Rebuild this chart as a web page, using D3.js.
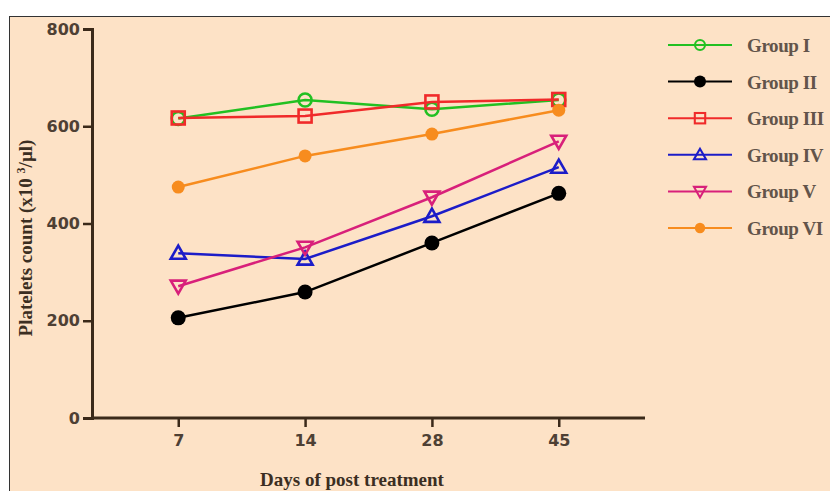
<!DOCTYPE html>
<html lang="en">
<head>
<meta charset="UTF-8">
<script src="https://d3js.org/d3.v7.min.js"></script>
<title>Platelets</title>
<style>
  body { margin:0; background:#fff; }
</style>
</head>
<body>
<script>
// data
var days = ["7", "14", "28", "45"];
var groups = ["Group I", "Group II", "Group III", "Group IV", "Group V", "Group VI"];
var groupI   = [616, 654, 635, 654];
var groupII  = [206, 259, 360, 462];
var groupIII = [617, 621, 650, 655];
var groupIV  = [339, 327, 415, 516];
var groupV   = [271, 351, 454, 569];
var groupVI  = [475, 539, 584, 633];
var yTicks = [0, 200, 400, 600, 800];

var series = [
  {name: groups[0], vals: groupI,   color: "#22c022", shape: "circle",  fill: false},
  {name: groups[1], vals: groupII,  color: "#000000", shape: "circle",  fill: true},
  {name: groups[2], vals: groupIII, color: "#f02a2a", shape: "square",  fill: false},
  {name: groups[3], vals: groupIV,  color: "#1c1cc8", shape: "tri",     fill: false},
  {name: groups[4], vals: groupV,   color: "#d8207a", shape: "tridown", fill: false},
  {name: groups[5], vals: groupVI,  color: "#f78c1e", shape: "circle",  fill: true, small: true}
];

var W = 830, H = 491;
var svg = d3.select("body").append("svg").attr("width", W).attr("height", H);

// peach panel with thin frame
svg.append("rect").attr("x", 9.5).attr("y", 16.5).attr("width", W).attr("height", H)
  .attr("fill", "#fde2c6").attr("stroke", "#333").attr("stroke-width", 1);

var x = d3.scalePoint().domain(days).range([92, 645]).padding(0.68);
var y = d3.scaleLinear().domain([0, 800]).range([418, 29]);

var axisColor = "#3b2a1a";
var gy = svg.append("g").attr("transform", "translate(92,0)")
  .call(d3.axisLeft(y).tickValues(yTicks).tickSize(9).tickPadding(3));
var gx = svg.append("g").attr("transform", "translate(0,418)")
  .call(d3.axisBottom(x).tickSize(9).tickPadding(8));
gx.select(".domain").attr("d", "M92,0H645");
[gx, gy].forEach(function(g){
  g.select(".domain").attr("stroke", axisColor).attr("stroke-width", 3);
  g.selectAll(".tick line").attr("stroke", axisColor).attr("stroke-width", 2.5);
  g.selectAll(".tick text").attr("fill", "#4e4034")
    .style("font-family", "'DejaVu Sans', sans-serif").style("font-weight", "bold").style("font-size", "16px");
});

svg.append("text").attr("x", 352).attr("y", 486).attr("text-anchor", "middle")
  .style("font-family", "'Liberation Serif', serif").style("font-weight", "bold").style("font-size", "19px")
  .attr("fill", "#3b2e22").text("Days of post treatment");

var yl = svg.append("text").attr("transform", "translate(32,238) rotate(-90)").attr("text-anchor", "middle")
  .style("font-family", "'Liberation Serif', serif").style("font-weight", "bold").style("font-size", "19px")
  .attr("fill", "#3b2e22");
yl.append("tspan").text("Platelets count (x10 ");
yl.append("tspan").attr("dy", -7).style("font-size", "12px").text("3");
yl.append("tspan").attr("dy", 7).text("/µl)");

function marker(g, s, cx, cy, scale) {
  var k = scale || 1;
  var sw = 2.6 * k;
  if (s.shape === "circle") {
    var r = (s.small ? 6.5 : 7.5) * k;
    g.append("circle").attr("cx", cx).attr("cy", cy).attr("r", s.fill ? r : r - 1)
      .attr("fill", s.fill ? s.color : "none").attr("stroke", s.color).attr("stroke-width", s.fill ? 0 : sw);
  } else if (s.shape === "square") {
    var a = 6.5 * k;
    g.append("rect").attr("x", cx - a).attr("y", cy - a).attr("width", 2 * a).attr("height", 2 * a)
      .attr("fill", "none").attr("stroke", s.color).attr("stroke-width", sw);
  } else {
    var t = 7.5 * k, dir = s.shape === "tri" ? 1 : -1;
    var pts = [[cx, cy - dir * t], [cx - t, cy + dir * t * 0.75], [cx + t, cy + dir * t * 0.75]];
    g.append("polygon").attr("points", pts.map(function(p){return p.join(",");}).join(" "))
      .attr("fill", "none").attr("stroke", s.color).attr("stroke-width", sw);
  }
}

var line = d3.line().x(function(d, i){ return x(days[i]); }).y(function(d){ return y(d); });

series.forEach(function(s){
  var g = svg.append("g");
  g.append("path").attr("d", line(s.vals)).attr("fill", "none")
    .attr("stroke", s.color).attr("stroke-width", 2.5);
  s.vals.forEach(function(v, i){ marker(g, s, x(days[i]), y(v)); });
});

// legend (kept just inside the right edge)
var leg = svg.append("g");
series.forEach(function(s, i){
  var ly = 45 + i * 36.6;
  var g = leg.append("g");
  g.append("line").attr("x1", 668).attr("x2", 732).attr("y1", ly).attr("y2", ly)
    .attr("stroke", s.color).attr("stroke-width", 2);
  marker(g, s, 700, ly, 0.8);
  g.append("text").attr("x", 747).attr("y", ly + 7)
    .style("font-family", "'Liberation Serif', serif").style("font-size", "19px")
    .style("letter-spacing", "-0.4px")
    .style("font-weight", "bold").attr("fill", "#62544a").text(s.name);
});
</script>
</body>
</html>
